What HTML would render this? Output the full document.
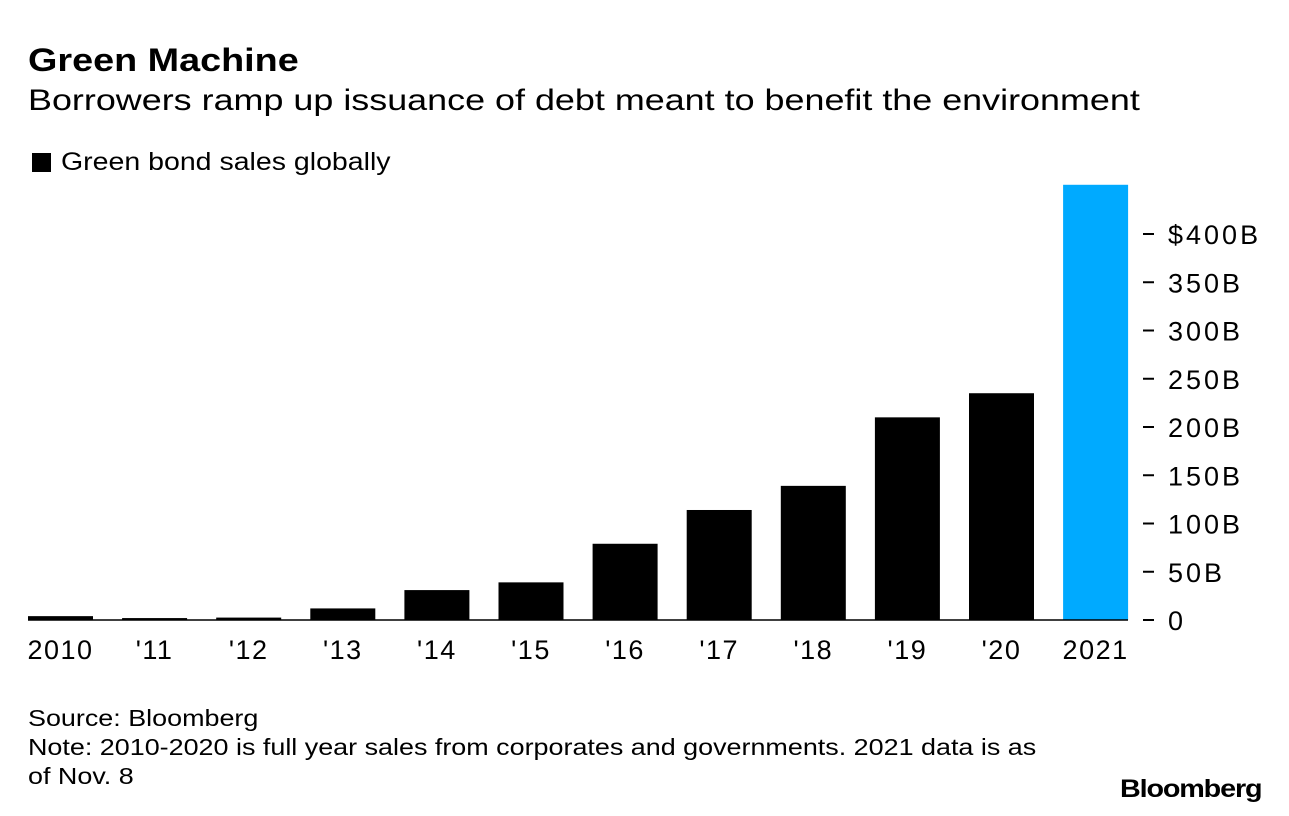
<!DOCTYPE html>
<html><head><meta charset="utf-8"><style>
body{margin:0;width:1289px;height:816px;background:#fff;font-family:"Liberation Sans",Arial,sans-serif;color:#000;overflow:hidden;position:relative}
.t{position:absolute;white-space:nowrap;transform-origin:0 0}
</style></head><body>
<div class="t" style="left:28px;top:42px;font-size:32px;font-weight:bold;transform:scaleX(1.18)">Green Machine</div>
<div class="t" style="left:28px;top:84px;font-size:30px;transform:scaleX(1.197)">Borrowers ramp up issuance of debt meant to benefit the environment</div>
<div class="t" style="left:32px;top:148px;font-size:25px"><span style="display:inline-block;width:19px;height:19px;background:#000;margin-right:10px;vertical-align:-2px"></span><span style="display:inline-block;transform:scaleX(1.14);transform-origin:0 0">Green bond sales globally</span></div>
<svg id="chart" width="1289" height="816" style="position:absolute;left:0;top:0"></svg>
<div class="t" style="left:28px;top:704px;font-size:23px;line-height:29px;transform:scaleX(1.17)">Source: Bloomberg<br>Note: 2010-2020 is full year sales from corporates and governments. 2021 data is as<br>of Nov. 8</div>
<div class="t" style="left:1120px;top:775px;font-size:25px;font-weight:bold;letter-spacing:-1px;transform:scaleX(1.15)">Bloomberg</div>
<script>
const categories=["2010","'11","'12","'13","'14","'15","'16","'17","'18","'19","'20","2021"];
const values=[4,2,2.5,12,31,39,79,114,139,210,235,451];
const tickValues=[0,50,100,150,200,250,300,350,400];
const tickLabels=["0","50B","100B","150B","200B","250B","300B","350B","$400B"];
const NS="http://www.w3.org/2000/svg";
const svg=document.getElementById('chart');
const y0=620,pxPer=(620-234)/400;
const y=v=>y0-v*pxPer;
const x=i=>28+i*94.1;
const bw=65;
function mk(t,a){const e=document.createElementNS(NS,t);for(const k in a)e.setAttribute(k,a[k]);svg.appendChild(e);return e;}
values.forEach((v,i)=>{
 const r=mk('rect',{x:x(i),y:y(v),width:bw,height:y0-y(v),fill:i===values.length-1?'#00aaff':'#000'});
 
 
 const t=mk('text',{x:x(i)+bw/2,y:659,'text-anchor':'middle','font-size':27,'letter-spacing':1.5,'font-family':'Liberation Sans, Arial, sans-serif'});
 t.textContent=categories[i];
 
 
});
const bl=mk('line',{x1:28,x2:1128,y1:y0,y2:y0,stroke:'#000','stroke-width':1.5});


tickValues.forEach((v,i)=>{
 const l=mk('line',{x1:1143,x2:1154,y1:y(v),y2:y(v),stroke:'#000','stroke-width':2});
 
 
 const t=mk('text',{x:1168,y:y(v)+10,'font-size':27,'letter-spacing':3,'font-family':'Liberation Sans, Arial, sans-serif'});
 t.textContent=tickLabels[i];
 
 
});
</script>
</body></html>
